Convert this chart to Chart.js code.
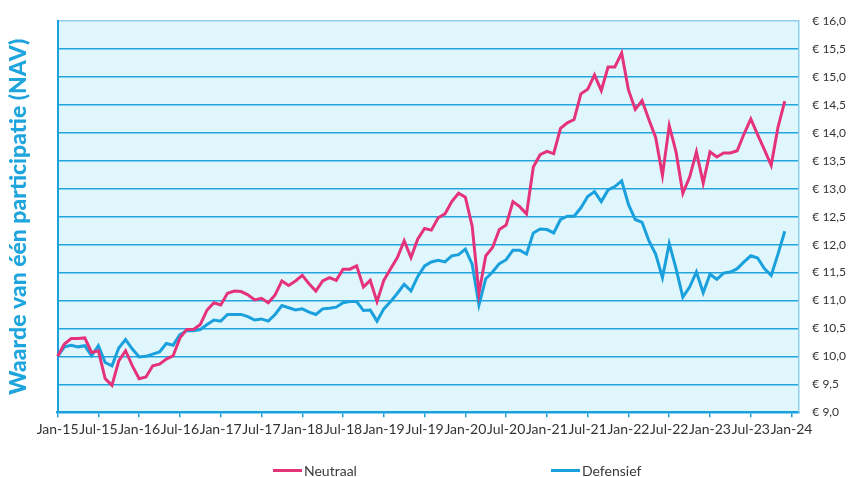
<!DOCTYPE html>
<html>
<head>
<meta charset="utf-8">
<script src="https://cdn.jsdelivr.net/npm/chart.js@4/dist/chart.umd.min.js"></script>
<style>
  html, body { margin: 0; padding: 0; background: #fff; }
  #wrap { position: relative; width: 854px; height: 477px; overflow: hidden; }
  #legend { position: absolute; left: 0; top: 461px; width: 854px; height: 18px;
            font: 14px Lato, sans-serif; color: #3a3a3a; }
  #legend .item { position: absolute; top: 0; height: 18px; display: flex; align-items: center; }
  #legend .swatch { display: inline-block; width: 29px; height: 3px; margin-right: 2px; }
</style>
</head>
<body>
<div id="wrap">
  <canvas id="chart" width="854" height="477"></canvas>
  <div id="legend"></div>
</div>
<script>
// month categories Jan-15 .. Feb-24
const monthNames = ['Jan','Feb','Mar','Apr','May','Jun','Jul','Aug','Sep','Oct','Nov','Dec'];
const years = ['15','16','17','18','19','20','21','22','23'];
const months = [];
for (const yr of years) for (const m of monthNames) months.push(m + '-' + yr);
months.push('Jan-24', 'Feb-24');

const xTickLabels = ['Jan-15','Jul-15','Jan-16','Jul-16','Jan-17','Jul-17','Jan-18','Jul-18',
  'Jan-19','Jul-19','Jan-20','Jul-20','Jan-21','Jul-21','Jan-22','Jul-22','Jan-23','Jul-23','Jan-24'];

// NAV per month, Jan-15 .. Dec-23
const neutraal = [
  10.00, 10.22, 10.32, 10.32, 10.33, 10.07, 10.10, 9.60, 9.48, 9.92, 10.10, 9.83,
  9.60, 9.63, 9.83, 9.86, 9.95, 10.01, 10.33, 10.48, 10.48, 10.57, 10.83, 10.96,
  10.92, 11.13, 11.17, 11.16, 11.10, 11.01, 11.04, 10.96, 11.10, 11.35, 11.27, 11.35,
  11.45, 11.30, 11.17, 11.35, 11.41, 11.36, 11.56, 11.56, 11.62, 11.24, 11.36, 10.98,
  11.36, 11.57, 11.77, 12.07, 11.77, 12.10, 12.29, 12.26, 12.48, 12.55, 12.77, 12.92,
  12.85, 12.33, 11.13, 11.80, 11.95, 12.27, 12.35, 12.77, 12.68, 12.55, 13.39, 13.61,
  13.67, 13.63, 14.08, 14.18, 14.24, 14.70, 14.78, 15.04, 14.76, 15.18, 15.18, 15.43,
  14.77, 14.42, 14.58, 14.24, 13.92, 13.24, 14.13, 13.66, 12.92, 13.21, 13.66, 13.10,
  13.66, 13.57, 13.64, 13.64, 13.68, 13.98, 14.25, 13.97, 13.70, 13.42, 14.10, 14.57
];
const defensief = [
  10.00, 10.17, 10.20, 10.17, 10.19, 10.01, 10.19, 9.89, 9.83, 10.15, 10.30, 10.13,
  9.99, 10.00, 10.04, 10.08, 10.23, 10.20, 10.39, 10.46, 10.46, 10.48, 10.57, 10.65,
  10.63, 10.75, 10.75, 10.75, 10.71, 10.65, 10.67, 10.63, 10.75, 10.91, 10.87, 10.83,
  10.85, 10.79, 10.75, 10.85, 10.86, 10.88, 10.96, 10.98, 10.98, 10.82, 10.83, 10.63,
  10.85, 10.98, 11.13, 11.29, 11.17, 11.43, 11.62, 11.69, 11.72, 11.69, 11.80, 11.82,
  11.92, 11.65, 10.92, 11.39, 11.51, 11.66, 11.73, 11.90, 11.90, 11.83, 12.21, 12.28,
  12.27, 12.21, 12.45, 12.51, 12.51, 12.66, 12.86, 12.95, 12.77, 12.98, 13.04, 13.14,
  12.72, 12.45, 12.40, 12.07, 11.83, 11.41, 12.02, 11.57, 11.06, 11.24, 11.51, 11.14,
  11.47, 11.38, 11.49, 11.51, 11.57, 11.69, 11.80, 11.76, 11.57, 11.45, 11.83, 12.24
];

const pink = '#e5337a';
const blue = '#1aa0dc';

// light blue plot background
const areaFill = {
  id: 'areaFill',
  beforeDraw(chart) {
    const { ctx, chartArea: a } = chart;
    ctx.save();
    ctx.fillStyle = '#dff6fd';
    ctx.fillRect(a.left, a.top, a.right - a.left, a.bottom - a.top);
    ctx.restore();
  }
};

const chart = new Chart(document.getElementById('chart'), {
  type: 'line',
  data: {
    labels: months,
    datasets: [
      { label: 'Neutraal', data: neutraal, borderColor: pink, backgroundColor: pink,
        borderWidth: 3, pointRadius: 0, tension: 0 },
      { label: 'Defensief', data: defensief, borderColor: blue, backgroundColor: blue,
        borderWidth: 3, pointRadius: 0, tension: 0 }
    ]
  },
  options: {
    responsive: false,
    animation: false,
    devicePixelRatio: 1,
    layout: { padding: { top: 17, right: -6, bottom: 35, left: 0 } },
    plugins: { legend: { display: false }, tooltip: { enabled: false } },
    scales: {
      x: {
        type: 'category',
        grid: { drawOnChartArea: false, drawTicks: true, tickLength: 5, color: blue, lineWidth: 1.5 },
        border: { color: blue, width: 2.5 },
        ticks: {
          autoSkip: false, maxRotation: 0, minRotation: 0, padding: 4,
          color: '#333', font: { family: 'Lato', size: 14 },
          callback: (v, i) => xTickLabels.includes(months[i]) ? months[i] : null
        }
      },
      y: {
        position: 'right',
        min: 9, max: 16,
        grid: { color: (c) => c.tick && c.tick.value === 16 ? '#8fd0ee' : '#22a4dd', lineWidth: 1.5, drawTicks: false },
        border: { display: true, color: '#8fd0ee', width: 1.5 },
        ticks: {
          stepSize: 0.5, padding: 14, color: '#333', font: { family: 'Lato', size: 12 },
          callback: v => '€ ' + v.toFixed(1).replace('.', ',')
        }
      },
      yTitle: {
        type: 'linear',
        position: 'left',
        grid: { display: false, drawTicks: false },
        ticks: { display: false },
        border: { display: true, color: blue, width: 2 },
        title: {
          display: true,
          text: 'Waarde van één participatie (NAV)',
          color: '#1ea5dd',
          font: { family: 'Lato', size: 23, weight: '900' },
          padding: { top: 5, bottom: 25 }
        }
      }
    }
  },
  plugins: [areaFill]
});

// legend below the chart
const legendPos = [273, 551];
const legend = document.getElementById('legend');
chart.data.datasets.forEach((ds, i) => {
  const item = document.createElement('div');
  item.className = 'item';
  item.style.left = legendPos[i] + 'px';
  item.innerHTML = '<span class="swatch" style="background:' + ds.borderColor + '"></span>' + ds.label;
  legend.appendChild(item);
});
</script>
</body>
</html>
